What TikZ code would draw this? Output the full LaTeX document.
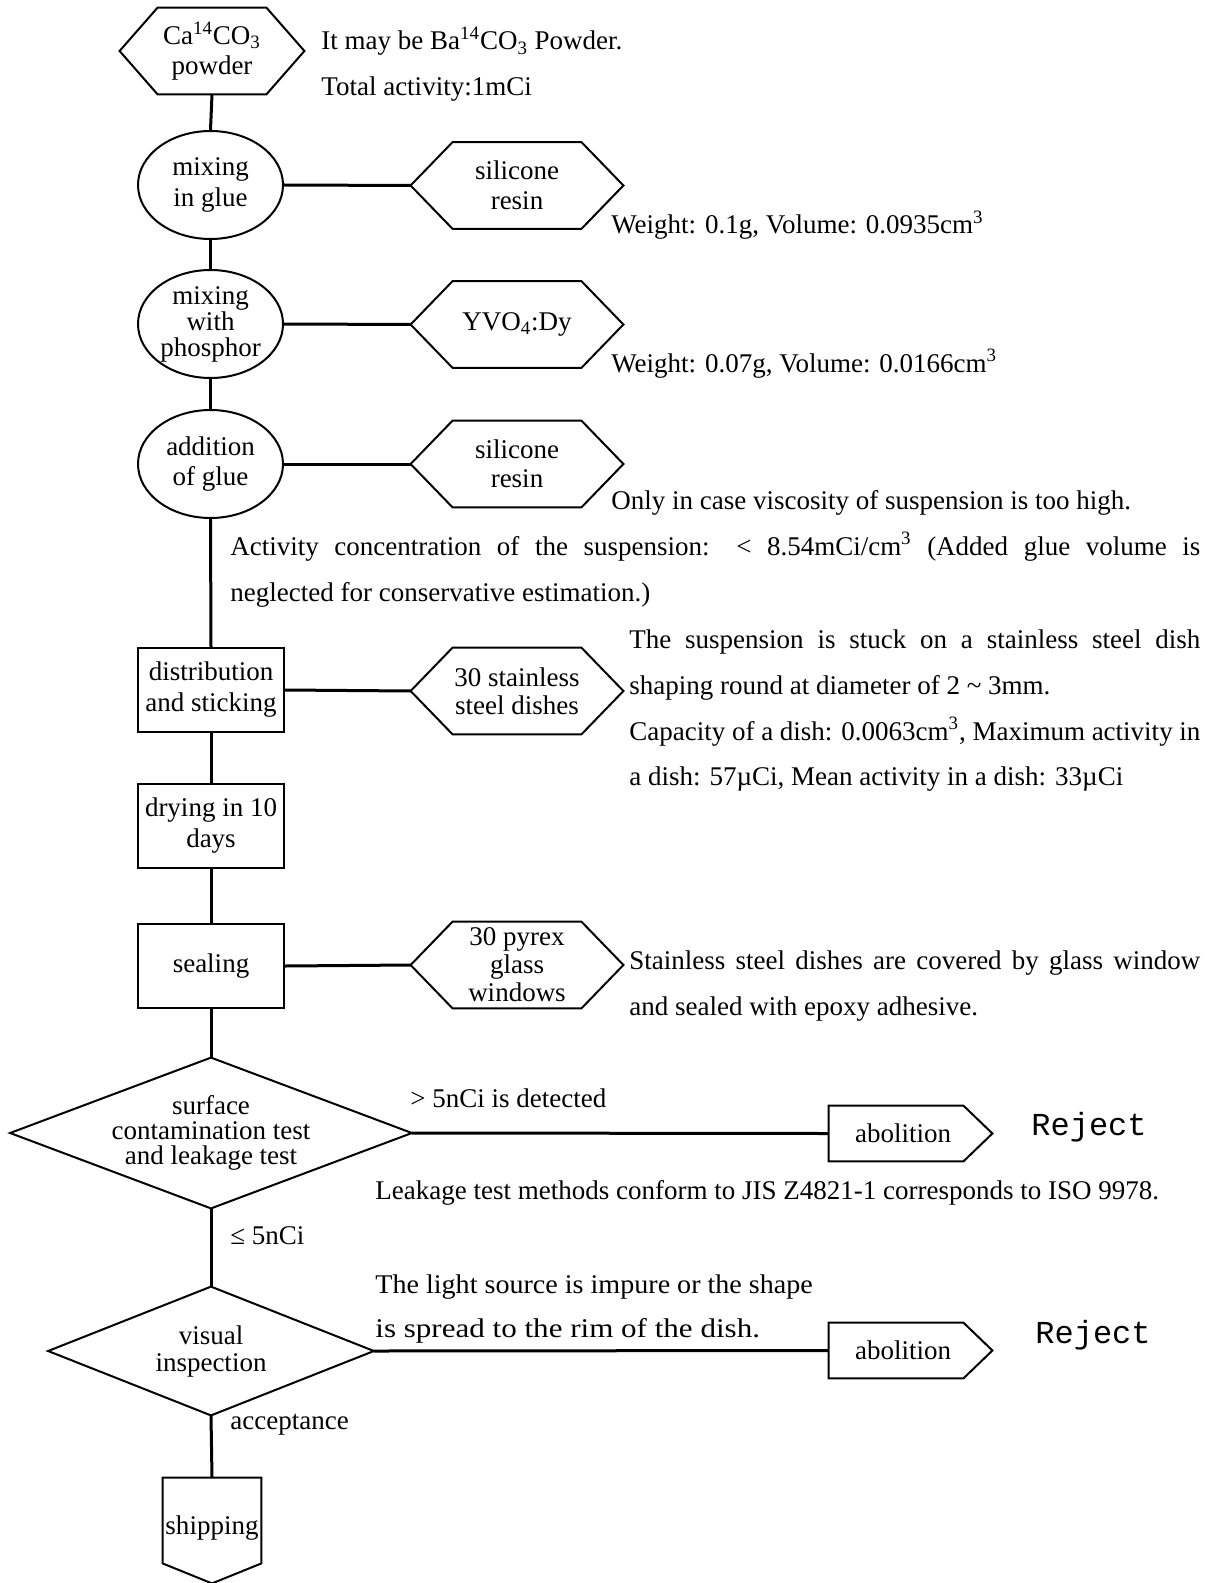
\documentclass[tikz,border=0pt]{standalone}
\usepackage{fontspec}
\setmainfont{Liberation Serif}
\newfontfamily\monof{Liberation Mono}
\usetikzlibrary{shapes.geometric,calc}
\begin{document}
\begin{tikzpicture}[x=0.5pt,y=-0.5pt,
  shapeline/.style={line width=1pt, line join=miter},
  conn/.style={line width=1.5pt},
  box/.style={inner sep=0pt, align=center, font=\fontsize{13.5}{14.75}\selectfont},
  hexbox/.style={box, draw=none, minimum width=106pt, minimum height=43pt},
  ellbox/.style={box, ellipse, draw, shapeline, minimum width=72.5pt, minimum height=54pt},
  rectbox/.style={box, draw, shapeline, minimum width=73pt, minimum height=42pt, font=\fontsize{13.5}{15.5}\selectfont},
  txt/.style={anchor=base west, inner sep=0pt, font=\fontsize{13.5}{15}\selectfont},
  rej/.style={anchor=base west, inner sep=0pt, font=\monof\fontsize{16}{18}\selectfont}
]
\useasboundingbox (0,0) rectangle (1209,1583);
\newcommand\hexshape[2]{\draw[shapeline] (#1.west) -- ([xshift=#2]#1.north west) -- ([xshift=-#2]#1.north east) -- (#1.east) -- ([xshift=-#2]#1.south east) -- ([xshift=#2]#1.south west) -- cycle;}

% main column
\node[hexbox, minimum width=92pt, minimum height=43pt, font=\fontsize{13.5}{15}\selectfont] (h0) at (212,51) {Ca\textsuperscript{14}CO\textsubscript{3}\\powder};
\hexshape{h0}{19pt}
\node[ellbox] (e1) at (210.5,185) {\raisebox{-1.5pt}{\shortstack{mixing\\in glue}}};
\node[ellbox, font=\fontsize{13.5}{13}\selectfont] (e2) at (210.5,324) {mixing\\with\\phosphor};
\node[ellbox, font=\fontsize{13.5}{15}\selectfont] (e3) at (210.5,464) {addition\\of glue};
\node[rectbox] (r1) at (211,690) {distribution\\and sticking};
\node[rectbox] (r2) at (211,826) {drying in 10\\days};
\node[rectbox] (r3) at (211,966) {sealing};
\node[box, minimum width=200.5pt, minimum height=75pt, font=\fontsize{13.5}{12.6}\selectfont] (d1) at (211,1133) {surface\\contamination test\\and leakage test};
\draw[shapeline] (d1.west) -- (d1.north) -- (d1.east) -- (d1.south) -- cycle;
\node[box, minimum width=162.5pt, minimum height=64pt, font=\fontsize{13.5}{13.5}\selectfont] (d2) at (211,1351) {visual\\inspection};
\draw[shapeline] (d2.west) -- (d2.north) -- (d2.east) -- (d2.south) -- cycle;
\node[box, minimum width=49pt, minimum height=52.5pt] (sh) at (212,1530.5) {\raisebox{5.5pt}{shipping}};
\draw[shapeline] (sh.north west) -- (sh.north east) -- ([yshift=10pt]sh.south east) -- (sh.south) -- ([yshift=10pt]sh.south west) -- cycle;

% side hexagons
\node[hexbox] (h1) at (517,185.5) {silicone\\resin};
\hexshape{h1}{21pt}
\node[hexbox] (h2) at (517,324.5) {YVO\textsubscript{4}:Dy};
\hexshape{h2}{21pt}
\node[hexbox] (h3) at (517,464) {silicone\\resin};
\hexshape{h3}{21pt}
\node[hexbox, font=\fontsize{13.5}{14}\selectfont] (h4) at (517,691) {30 stainless\\steel dishes};
\hexshape{h4}{21pt}
\node[hexbox, font=\fontsize{13.5}{14}\selectfont] (h5) at (517,965) {30 pyrex\\glass\\windows};
\hexshape{h5}{21pt}

% abolition boxes
\node[box, minimum width=81.5pt, minimum height=27.5pt] (a1) at (910.5,1133.5) {abolition\hspace*{7.5pt}};
\draw[shapeline] (a1.north west) -- ([xshift=-14.5pt]a1.north east) -- (a1.east) -- ([xshift=-14.5pt]a1.south east) -- (a1.south west) -- cycle;
\node[box, minimum width=81.5pt, minimum height=27.5pt] (a2) at (910.5,1350.5) {abolition\hspace*{7.5pt}};
\draw[shapeline] (a2.north west) -- ([xshift=-14.5pt]a2.north east) -- (a2.east) -- ([xshift=-14.5pt]a2.south east) -- (a2.south west) -- cycle;

% connectors
\draw[conn] (h0.south) -- (e1.north);
\draw[conn] (e1.south) -- (e2.north);
\draw[conn] (e2.south) -- (e3.north);
\draw[conn] (e3.south) -- (r1.north);
\draw[conn] (r1.south) -- (r2.north);
\draw[conn] (r2.south) -- (r3.north);
\draw[conn] (r3.south) -- (d1.north);
\draw[conn] (d1.south) -- (d2.north);
\draw[conn] (d2.south) -- (sh.north);
\draw[conn] (e1.east) -- (h1.west);
\draw[conn] (e2.east) -- (h2.west);
\draw[conn] (e3.east) -- (h3.west);
\draw[conn] (r1.east) -- (h4.west);
\draw[conn] (r3.east) -- (h5.west);
\draw[conn] (d1.east) -- (a1.west);
\draw[conn] (d2.east) -- (a2.west);

% annotations
\node[txt] (t1) at (321,50) {It may be Ba\textsuperscript{14}CO\textsubscript{3} Powder.};
\node[txt] (t2) at (321,96) {Total activity:1mCi};
\node[txt] (t3) at (611,234) {Weight: 0.1g, Volume: 0.0935cm\textsuperscript{3}};
\node[txt] (t4) at (611,372) {Weight: 0.07g, Volume: 0.0166cm\textsuperscript{3}};
\node[txt] (t5) at (611,509) {Only in case viscosity of suspension is too high.};
\node[txt] (t6) at (230,555) {\makebox[485pt][s]{Activity concentration of the suspension: < 8.54mCi/cm\textsuperscript{3} (Added glue volume is}};
\node[txt] (t7) at (230,601) {neglected for conservative estimation.)};
\node[txt] (t8) at (629,648) {\makebox[285.5pt][s]{The suspension is stuck on a stainless steel dish}};
\node[txt] (t9) at (629,694) {shaping round at diameter of 2 \textasciitilde{} 3mm.};
\node[txt] (t10) at (629,740) {\makebox[285.5pt][s]{Capacity of a dish: 0.0063cm\textsuperscript{3}, Maximum activity in}};
\node[txt] (t11) at (629,785) {a dish: 57µCi, Mean activity in a dish: 33µCi};
\node[txt] (t12) at (629,969) {\makebox[285.5pt][s]{Stainless steel dishes are covered by glass window}};
\node[txt] (t13) at (629,1015) {and sealed with epoxy adhesive.};
\node[txt] (t14) at (410,1107) {> 5nCi is detected};
\node[txt] (t15) at (375,1199) {Leakage test methods conform to JIS Z4821-1 corresponds to ISO 9978.};
\node[txt] (t16) at (230,1244) {≤ 5nCi};
\node[txt] (t17) at (375,1293) {\scalebox{1.04}[1]{The light source is impure or the shape}};
\node[txt] (t18) at (375,1337) {\scalebox{1.15}[1]{is spread to the rim of the dish.}};
\node[txt] (t19) at (230,1429) {acceptance};
\node[rej] (rj1) at (1031,1135) {Reject};
\node[rej] (rj2) at (1035,1343) {Reject};
\end{tikzpicture}
\end{document}
